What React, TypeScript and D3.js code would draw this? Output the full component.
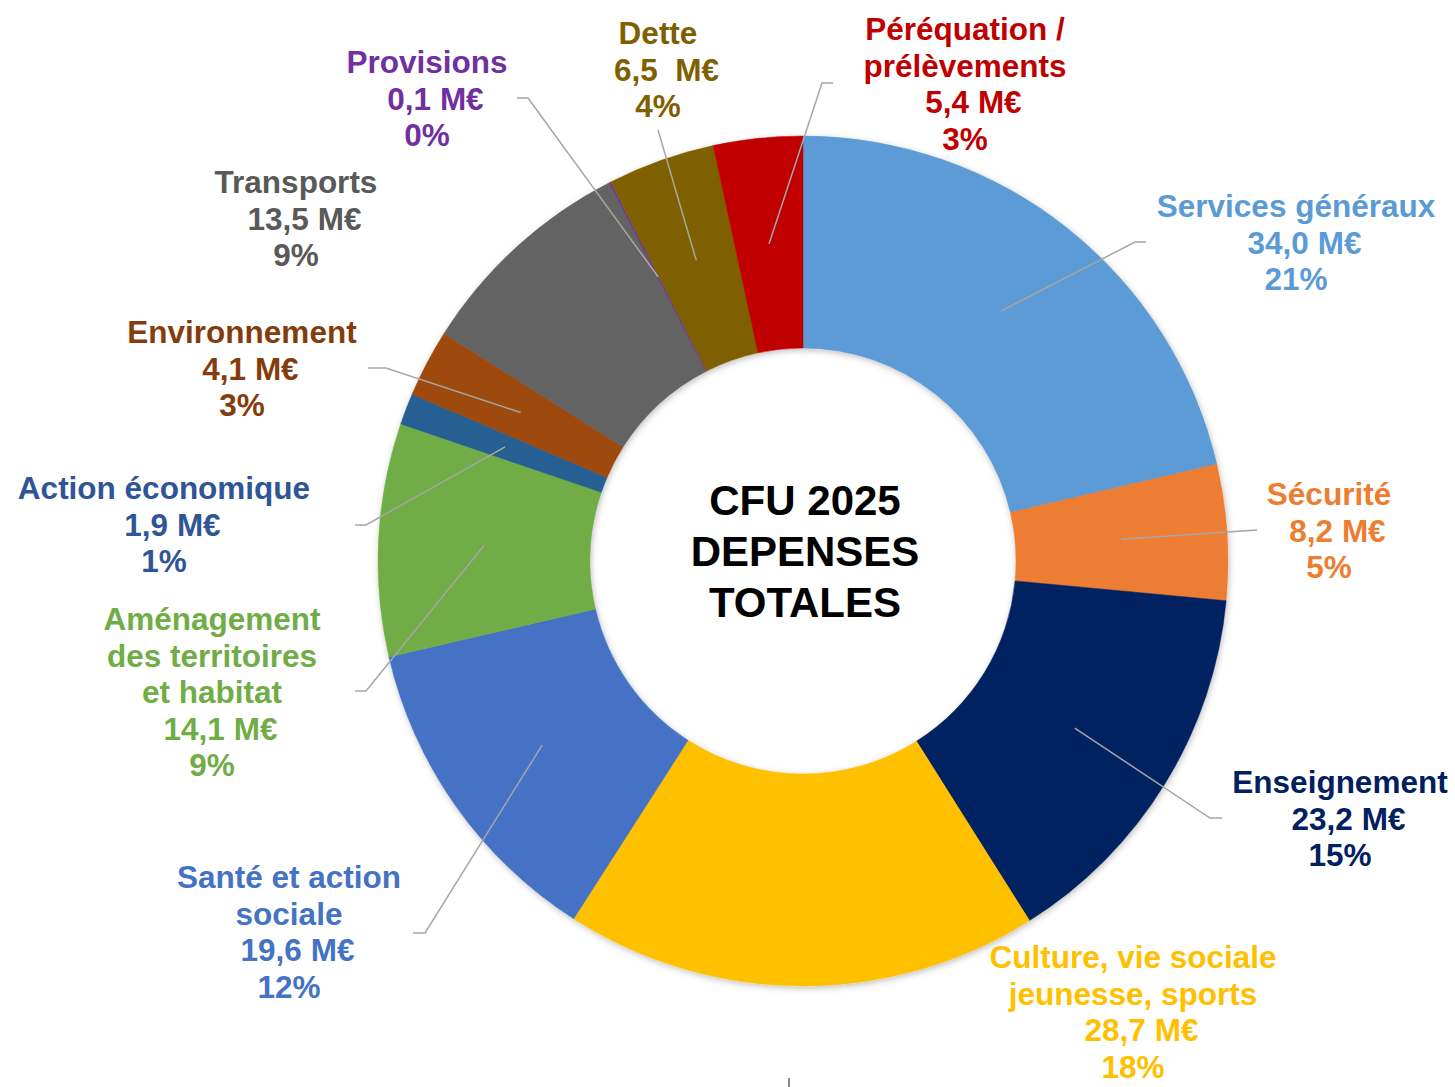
import React, { useEffect, useRef } from 'react';
import * as d3 from 'd3';

const categories = [
  "Services généraux", "Sécurité", "Enseignement", "Culture", "Santé",
  "Aménagement", "Action économique", "Environnement", "Transports",
  "Provisions", "Dette", "Péréquation"
];
const values = [34.0, 8.2, 23.2, 28.7, 19.6, 14.1, 1.9, 4.1, 13.5, 0.1, 6.5, 5.4];
const percents = [21, 5, 15, 18, 12, 9, 1, 3, 9, 0, 4, 3];
const valueLabels = [
  "34,0 M€", "8,2 M€", "23,2 M€", "28,7 M€", "19,6 M€", "14,1 M€",
  "1,9 M€", "4,1 M€", "13,5 M€", "0,1 M€", "6,5  M€", "5,4 M€"
];
const nameLines = [
  ["Services généraux"],
  ["Sécurité"],
  ["Enseignement"],
  ["Culture, vie sociale", "jeunesse, sports"],
  ["Santé et action", "sociale"],
  ["Aménagement", "des territoires", "et habitat"],
  ["Action économique"],
  ["Environnement"],
  ["Transports"],
  ["Provisions"],
  ["Dette"],
  ["Péréquation /", "prélèvements"]
];
const sliceColors = [
  "#5b9bd5", "#ed7d31", "#002060", "#ffc000", "#4472c4", "#70ad47",
  "#255e91", "#9e480e", "#636363", "#7030a0", "#7f6000", "#c00000"
];
const textColors = [
  "#5b9bd5", "#ed7d31", "#002060", "#ffc000", "#4472c4", "#70ad47",
  "#2f5597", "#843c0c", "#595959", "#7030a0", "#7f6000", "#c00000"
];
const titleLines = ["CFU 2025", "DEPENSES", "TOTALES"];

// label placement: text centre x, first baseline y, leader elbow & end (null = no leader)
const labelPos = [
  { x: 1296, y: 217, elbow: [1135, 242], end: [1146, 242] },
  { x: 1329, y: 505, elbow: [1257, 530], end: [1257, 530] },
  { x: 1340, y: 793, elbow: [1210, 818], end: [1222, 818] },
  { x: 1133, y: 968, elbow: null, end: null },
  { x: 289, y: 888, elbow: [425, 933], end: [413, 933] },
  { x: 212, y: 630, elbow: [366, 691], end: [355, 691] },
  { x: 164, y: 499, elbow: [366, 525], end: [355, 525] },
  { x: 242, y: 343, elbow: [386, 368], end: [368, 368] },
  { x: 296, y: 193, elbow: null, end: null },
  { x: 427, y: 73, elbow: [528, 98], end: [517, 98] },
  { x: 658, y: 44, elbow: [658, 130], end: [658, 130] },
  { x: 965, y: 40, elbow: [822, 83], end: [833, 83] }
];

const W = 1455, H = 1087;
const cx = 803, cy = 561;
const outerR = 425, innerR = 213;
const lineH = 36.6;

const App = () => {
  const ref = useRef<SVGSVGElement>(null);

  useEffect(() => {
    const svg = d3.select(ref.current);
    svg.selectAll("*").remove();
    svg.attr("width", W).attr("height", H);

    const defs = svg.append("defs");
    const f = defs.append("filter").attr("id", "shadow")
      .attr("x", "-10%").attr("y", "-10%").attr("width", "120%").attr("height", "120%");
    f.append("feDropShadow")
      .attr("dx", 1).attr("dy", 2).attr("stdDeviation", 3)
      .attr("flood-color", "#000").attr("flood-opacity", 0.25);

    const data = categories.map((c, i) => ({ name: c, value: values[i], i }));

    const pie = d3.pie<any>().sort(null).value(d => d.value);
    const arc = d3.arc<any>().innerRadius(innerR).outerRadius(outerR);
    const arcs = pie(data);

    const g = svg.append("g").attr("transform", `translate(${cx},${cy})`);

    g.append("g").attr("filter", "url(#shadow)")
      .selectAll("path")
      .data(arcs)
      .enter().append("path")
      .attr("d", arc)
      .attr("fill", d => sliceColors[d.data.i])
      .attr("stroke", d => sliceColors[d.data.i])
      .attr("stroke-width", 0.5);

    // leader lines
    arcs.forEach(d => {
      const p = labelPos[d.data.i];
      if (!p.elbow) return;
      const [mx, my] = arc.centroid(d);
      const pts: [number, number][] = [
        [mx + cx, my + cy], p.elbow as [number, number], p.end as [number, number]
      ];
      svg.append("path")
        .attr("d", d3.line()(pts))
        .attr("fill", "none")
        .attr("stroke", "#a6a6a6")
        .attr("stroke-width", 1.5);
    });

    // stray tick at the bottom edge
    svg.append("line")
      .attr("x1", 789).attr("x2", 789).attr("y1", 1078).attr("y2", H)
      .attr("stroke", "#8c8c8c").attr("stroke-width", 2);

    arcs.forEach(d => {
      const i = d.data.i;
      const p = labelPos[i];
      const names = nameLines[i];
      const lines = [...names, valueLabels[i], `${percents[i]}%`];
      const t = svg.append("text")
        .attr("text-anchor", "middle")
        .attr("fill", textColors[i])
        .attr("font-family", "'Liberation Sans', Arial, sans-serif")
        .attr("font-weight", "bold")
        .attr("font-size", 31.5)
        .style("white-space", "pre");
      lines.forEach((l, k) => {
        // the value line sits a little right of the others in the source
        const dx = k === names.length ? 8.5 : 0;
        t.append("tspan").attr("x", p.x + dx).attr("y", p.y + k * lineH).text(l);
      });
    });

    const title = svg.append("text")
      .attr("text-anchor", "middle")
      .attr("fill", "#000")
      .attr("font-family", "'Liberation Sans', Arial, sans-serif")
      .attr("font-weight", "bold")
      .attr("font-size", 42);
    titleLines.forEach((l, k) => {
      title.append("tspan").attr("x", cx + 2).attr("y", 515 + k * 51).text(l);
    });
  }, []);

  return <svg ref={ref} style={{ position: 'absolute', left: 0, top: 0, background: '#fff' }} />;
};

export default App;
